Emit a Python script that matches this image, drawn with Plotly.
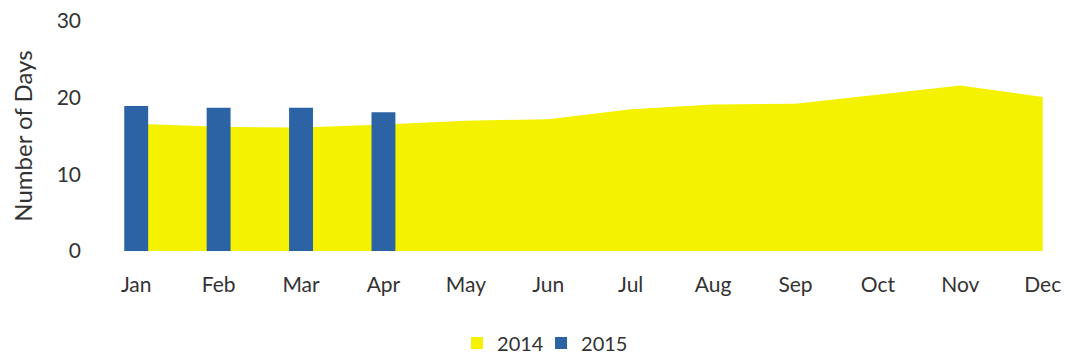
import plotly.graph_objects as go

months = ["Jan", "Feb", "Mar", "Apr", "May", "Jun", "Jul", "Aug", "Sep", "Oct", "Nov", "Dec"]
days_2014 = [16.6, 16.2, 16.1, 16.5, 17.0, 17.2, 18.5, 19.1, 19.2, 20.4, 21.6, 20.1]
months_2015 = ["Jan", "Feb", "Mar", "Apr"]
days_2015 = [18.9, 18.7, 18.7, 18.1]

YELLOW = "#F4F200"
BLUE = "#2B63A4"
TEXT = "#333333"
FONT = "Lato, Open Sans, sans-serif"

fig = go.Figure()
fig.add_trace(go.Scatter(
    x=months, y=days_2014, name="2014", mode="lines",
    fill="tozeroy", fillcolor=YELLOW, line=dict(width=0, color=YELLOW),
    xaxis="x", yaxis="y", showlegend=False, legendgroup="2014",
))
# legend entry for 2014 drawn as a square swatch
fig.add_trace(go.Bar(
    x=[months[0]], y=[None], name="2014", marker=dict(color=YELLOW, line=dict(width=0)),
    xaxis="x", yaxis="y", legendgroup="2014", showlegend=True,
))
fig.add_trace(go.Bar(
    x=months_2015, y=days_2015, name="2015", marker=dict(color=BLUE, line=dict(width=0)),
    width=0.29, xaxis="x2", yaxis="y2",
))
# invisible spacer entry so the legend box is wide enough for "2015"
fig.add_trace(go.Bar(
    x=[months[0]], y=[None], name=" ", marker=dict(color="rgba(0,0,0,0)", line=dict(width=0)),
    xaxis="x", yaxis="y", showlegend=True, hoverinfo="skip",
))

xr = [-0.5, 11.1]
yr = [0, 30]
# page body has an 8px margin, so the figure is sized/positioned to compensate
fig.update_layout(
    width=1054, height=348,
    margin=dict(l=87, r=11, t=13, b=105, autoexpand=False),
    paper_bgcolor="white", plot_bgcolor="white",
    font=dict(family=FONT, size=20, color=TEXT),
    showlegend=True,
    barmode="overlay",
    legend=dict(orientation="h", x=0.3787, xanchor="left", y=-0.40, yanchor="middle",
                font=dict(size=20, color=TEXT), traceorder="normal",
                entrywidth=39, entrywidthmode="pixels"),
    xaxis=dict(type="category", categoryorder="array", categoryarray=months, range=xr,
               showgrid=False, zeroline=False, showline=False, ticks="",
               ticklabelstandoff=19, ticklabeloverflow="allow",
               tickfont=dict(size=21, color=TEXT)),
    yaxis=dict(range=yr, tickvals=[0, 10, 20, 30], showgrid=False, zeroline=False,
               showline=False, ticks="", ticklabelstandoff=13, ticklabeloverflow="allow",
               tickfont=dict(size=21, color=TEXT),
               title=dict(text="Number of Days", font=dict(size=24, color=TEXT), standoff=20)),
    xaxis2=dict(type="category", categoryorder="array", categoryarray=months, range=xr,
                overlaying="x", visible=False),
    yaxis2=dict(range=yr, overlaying="y", visible=False),
)

fig.write_html("out.html")
